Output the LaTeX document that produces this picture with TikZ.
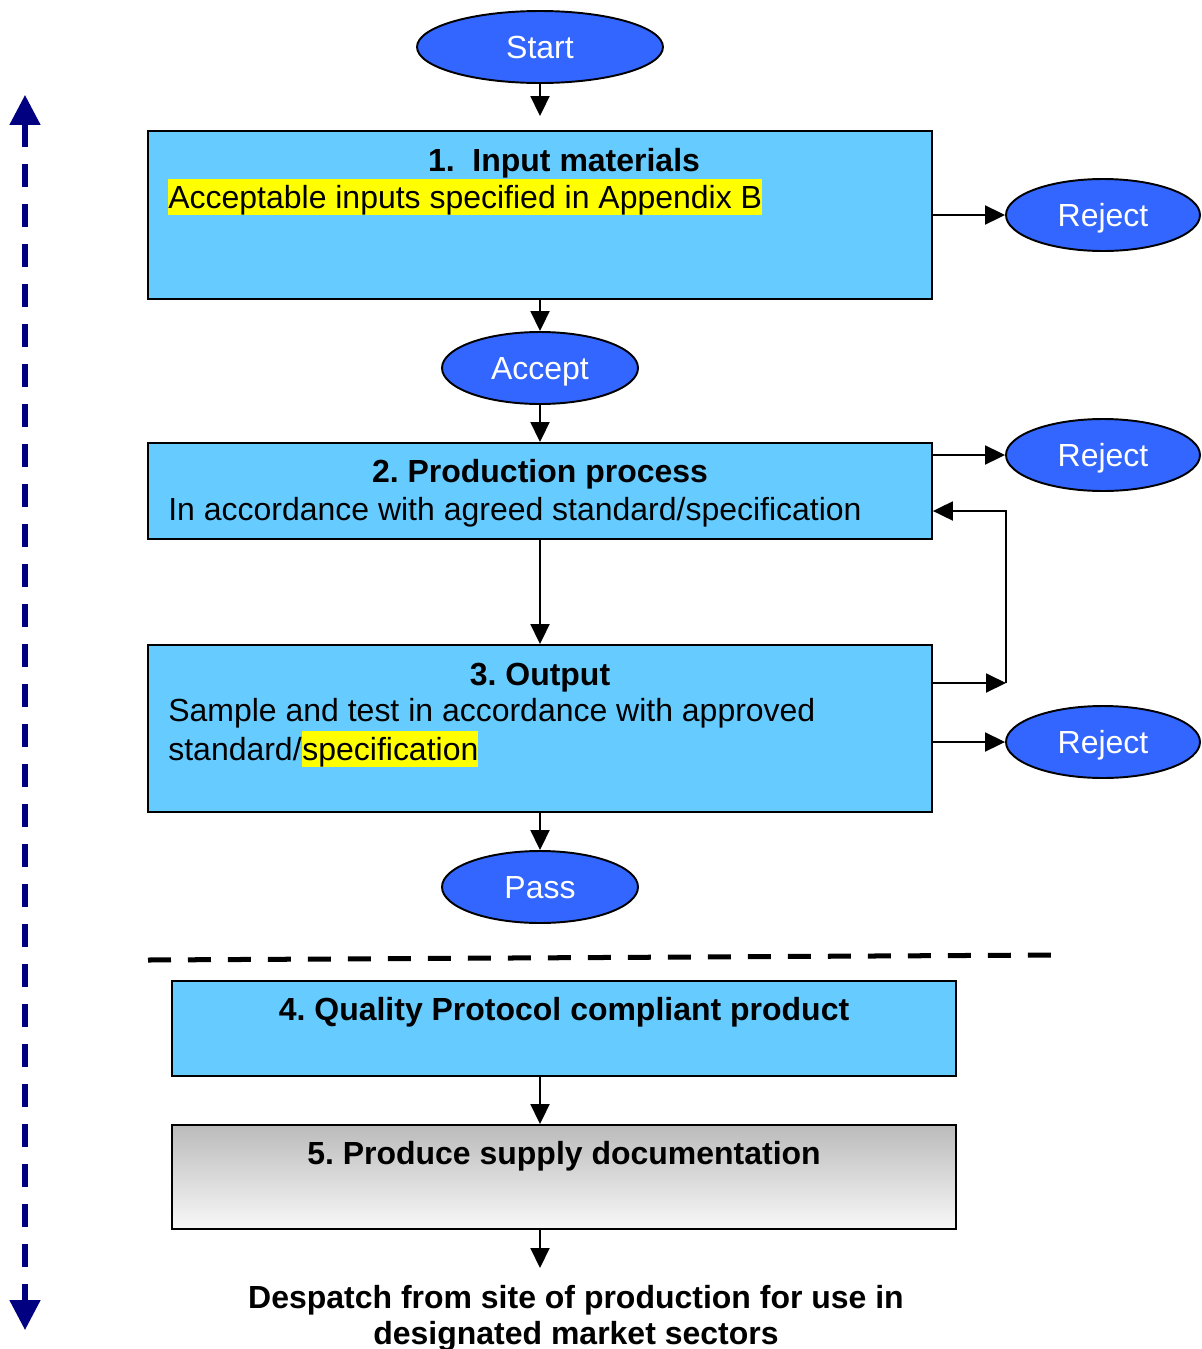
\documentclass[tikz,border=0pt]{standalone}
\usepackage{fontspec}
\setmainfont{Liberation Sans}
\usetikzlibrary{shapes.geometric,arrows.meta}
\frenchspacing
\definecolor{boxblue}{RGB}{102,204,255}
\definecolor{ovalblue}{RGB}{51,102,255}
\definecolor{navyline}{RGB}{0,0,128}
\definecolor{hlyellow}{RGB}{255,255,0}
\definecolor{docgray}{RGB}{187,187,187}
\definecolor{docwhite}{RGB}{248,248,248}
\tikzset{
  every node/.style={font=\fontsize{18.2}{20.5}\selectfont},
  box/.style={draw, line width=1.1pt, minimum width=15.68cm, inner sep=0pt},
  oval/.style={ellipse, draw, line width=1.1pt, fill=ovalblue, text=white, minimum height=1.44cm, inner sep=0pt, text height=13pt, text depth=0pt},
  txt/.style={inner sep=0pt, anchor=base west},
  title/.style={inner sep=0pt, anchor=base, font=\fontsize{18.2}{20.5}\selectfont\bfseries},
  hl/.style={fill=hlyellow, text height=16.5pt, text depth=3.9pt},
  flow/.style={line width=1.1pt, -{Triangle[length=0.4cm,width=0.38cm]}},
}
\begin{document}
\begin{tikzpicture}[x=0.02cm, y=-0.02cm]
    \useasboundingbox (0,0) rectangle (1201,1349);
    % ovals
    \node[oval, minimum width=4.92cm] (start) at (540,47) {Start};
    \node[oval, minimum width=3.92cm] (accept) at (540,368) {Accept};
    \node[oval, minimum width=3.92cm] (pass) at (540,887) {Pass};
    \node[oval, minimum width=3.88cm] (rej1) at (1103,215) {Reject};
    \node[oval, minimum width=3.88cm] (rej2) at (1103,455) {Reject};
    \node[oval, minimum width=3.88cm] (rej3) at (1103,742) {Reject};
    % boxes
    \node[box, fill=boxblue, minimum height=3.36cm] (input) at (540,215) {};
    \node[box, fill=boxblue, minimum height=1.92cm] (process) at (540,491) {};
    \node[box, fill=boxblue, minimum height=3.34cm] (output) at (540,728.5) {};
    \node[box, fill=boxblue, minimum height=1.9cm] (product) at (564,1028.5) {};
    \node[box, top color=docgray, bottom color=docwhite, minimum height=2.08cm] (docs) at (564,1177) {};
    % texts
    \node[title] (t1) at (564,171) {1.\ \ Input materials};
    \node[txt, hl] (l1) at (168,208) {Acceptable inputs specified in Appendix B};
    \node[title] (t2) at (540,482) {2. Production process};
    \node[txt] (l2) at (168,520) {In accordance with agreed standard/specification};
    \node[title] (t3) at (540,685) {3. Output};
    \node[txt] (l3a) at (168,721) {Sample and test in accordance with approved};
    \node[txt] (l3b) at (168,760) {standard/};
    \node[txt, hl] (l3c) at (l3b.base east) {specification};
    \node[title] (t4) at (564,1020) {4. Quality Protocol compliant product};
    \node[title] (t5) at (564,1164) {5. Produce supply documentation};
    \node[title] (desp1) at (576,1308) {Despatch from site of production for use in};
    \node[title] (desp2) at (576,1344) {designated market sectors};
    % connectors
    \draw[flow, shorten >=0.28cm] (start) -- (input);
    \draw[flow] (input) -- (accept);
    \draw[flow] (accept) -- (process);
    \draw[flow] (process) -- (output);
    \draw[flow] (output) -- (pass);
    \draw[flow] (input.east) -- (rej1.west);
    \draw[flow] (rej2.west -| process.east) -- (rej2.west);
    \draw[flow] (rej3.west -| output.east) -- (rej3.west);
    \coordinate (fb) at (1006,683);
    \coordinate (ret) at (1006,511);
    \draw[flow] (fb -| output.east) -- (fb);
    \draw[flow] (fb) -- (ret) -- (ret -| process.east);
    \draw[flow] (product.south -| pass) -- (docs.north -| pass);
    \coordinate (despin) at (540,1268);
    \draw[flow] (docs.south -| pass) -- (despin);
    % dashed divider and side arrow
    \coordinate (divl) at (148,960);
    \coordinate (divr) at (1054,955);
    \draw[line width=2.85pt, dash pattern=on 0.46cm off 0.34cm] (divl) -- (divr);
    \coordinate (sidetop) at (25,95);
    \coordinate (sidebot) at (25,1330);
    \draw[navyline, line width=2.85pt, dash pattern=on 0.46cm off 0.34cm,
        {Triangle[length=0.6cm,width=0.6cm]}-{Triangle[length=0.6cm,width=0.6cm]}] (sidetop) -- (sidebot);
\end{tikzpicture}
\end{document}
